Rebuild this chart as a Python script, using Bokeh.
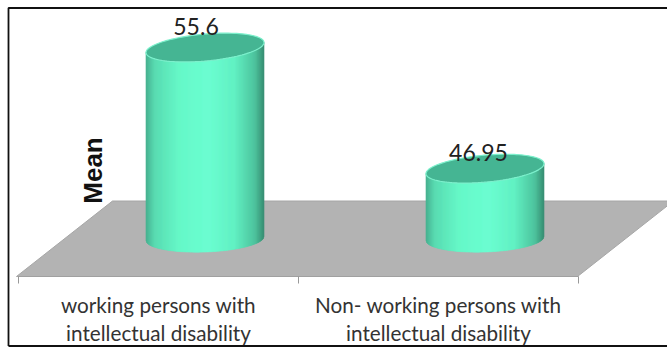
from bokeh.embed import file_html
from bokeh.resources import INLINE
from bokeh.plotting import figure
from bokeh.models import Range1d, LinearAxis, FixedTicker
from bokeh.core.properties import value
import numpy as np

categories = ["working persons with\nintellectual disability",
              "Non- working persons with\nintellectual disability"]
means = [55.6, 46.95]
mean_labels = ["55.6", "46.95"]
axis_title = "Mean"

W, H = 667, 347
PX_PER_UNIT = 14.0
BASE_VALUE = 41.96
BASE_PY = 238
CAT_STEP = 280
CAT0_PX = 158
DEPTH_PX = 46.5
RADIUS_PX = 59
RY_PX = 13.5
LID_TILT_PX = 5
BASE_TILT_PX = 2

# Small nudges of the value labels relative to the cylinder axis (px)
label_dx = [-9, -6.5]
label_dy = [-21, -16]

p = figure(width=W, height=H, output_backend="svg", toolbar_location=None,
           min_border=0, outline_line_color=None, background_fill_color="white",
           x_axis_type=None, y_axis_type=None)
p.grid.visible = False
p.x_range = Range1d(-CAT0_PX / CAT_STEP, (W - CAT0_PX) / CAT_STEP)
p.y_range = Range1d(BASE_VALUE - (H - BASE_PY) / PX_PER_UNIT, BASE_VALUE + BASE_PY / PX_PER_UNIT)
p.extra_y_ranges = {"px": Range1d(H, 0)}
p.extra_x_ranges = {"px": Range1d(0, W)}

# Page frame
p.line([8, 8, 667], [345.5, 7.5, 7.5], x_range_name="px", y_range_name="px", color="#111111", line_width=1.8)
p.line([8, 667], [345.5, 345.5], x_range_name="px", y_range_name="px", color="#111111", line_width=1.8)

# Floor of the 3-D chart
p.patch([16, 112, 673, 577], [276, 200.5, 200.5, 276], x_range_name="px", y_range_name="px",
        fill_color="#b3b3b3", line_color="#a6a6a6", line_width=1)

# Category axis along the front edge of the floor
xaxis = LinearAxis(fixed_location=BASE_VALUE - (276 - BASE_PY) / PX_PER_UNIT,
                   bounds=(-0.5, 1.5),
                   ticker=FixedTicker(ticks=[0, 1], minor_ticks=[-0.5, 0.5, 1.5]),
                   major_label_overrides={i: c for i, c in enumerate(categories)},
                   major_tick_line_color=None,
                   minor_tick_line_color="#999999", minor_tick_out=7, minor_tick_in=0,
                   axis_line_color="#a0a0a0",
                   major_label_text_font="Lato", major_label_text_font_size="20.7px",
                   major_label_text_color="#333333", major_label_standoff=9)
p.add_layout(xaxis, "below")


def shade(t):
    # Cylinder lighting across its width: t runs from -1 (left) to 1 (right)
    stops_t = [-1, -0.85, -0.45, 0.05, 0.5, 0.85, 1]
    r = np.interp(t, stops_t, [0x46, 0x5a, 0x66, 0x6c, 0x62, 0x4e, 0x38])
    g = np.interp(t, stops_t, [0xb0, 0xdc, 0xf8, 0xff, 0xf2, 0xc4, 0x90])
    b = np.interp(t, stops_t, [0x90, 0xb2, 0xc8, 0xd2, 0xc4, 0x9e, 0x74])
    return "#%02x%02x%02x" % (int(r), int(g), int(b))


for i, v in enumerate(means):
    cx = i + DEPTH_PX / CAT_STEP
    r = RADIUS_PX / CAT_STEP
    ry = RY_PX / PX_PER_UNIT
    lid_tilt = LID_TILT_PX / PX_PER_UNIT
    base_tilt = BASE_TILT_PX / PX_PER_UNIT
    n = 118
    edges = np.linspace(-1, 1, n + 1)
    for a, b in zip(edges[:-1], edges[1:]):
        arc_a = np.sqrt(1 - a * a) * ry
        arc_b = np.sqrt(1 - b * b) * ry
        xs = [cx + a * r, cx + b * r, cx + b * r, cx + a * r]
        ys = [BASE_VALUE - arc_a + base_tilt * a, BASE_VALUE - arc_b + base_tilt * b,
              v - arc_b + lid_tilt * b, v - arc_a + lid_tilt * a]
        col = shade((a + b) / 2)
        p.patch(xs, ys, fill_color=col, line_color=col, line_width=0.6)
    # Lid, tilted so that it rises to the right
    th = np.linspace(0, 2 * np.pi, 120)
    lx = np.cos(th)
    ly = ry * np.sin(th) + lid_tilt * lx
    p.patch(cx + r * lx, v + ly, fill_color="#45b593", line_color="#7cf0cc", line_width=1.2)
    p.text([cx], [v], text=[mean_labels[i]], text_align="center", text_baseline="middle",
           x_offset=label_dx[i], y_offset=label_dy[i], text_font=value("Lato"),
           text_font_size="23px", text_color="#222222")

p.text([92.5], [170], text=[axis_title], x_range_name="px", y_range_name="px", angle=np.pi / 2,
       text_align="center", text_baseline="middle", text_font=value("Liberation Sans"),
       text_font_style="bold", text_font_size="26px", text_color="#111111")

open("out.html", "w").write(file_html(p, INLINE))
